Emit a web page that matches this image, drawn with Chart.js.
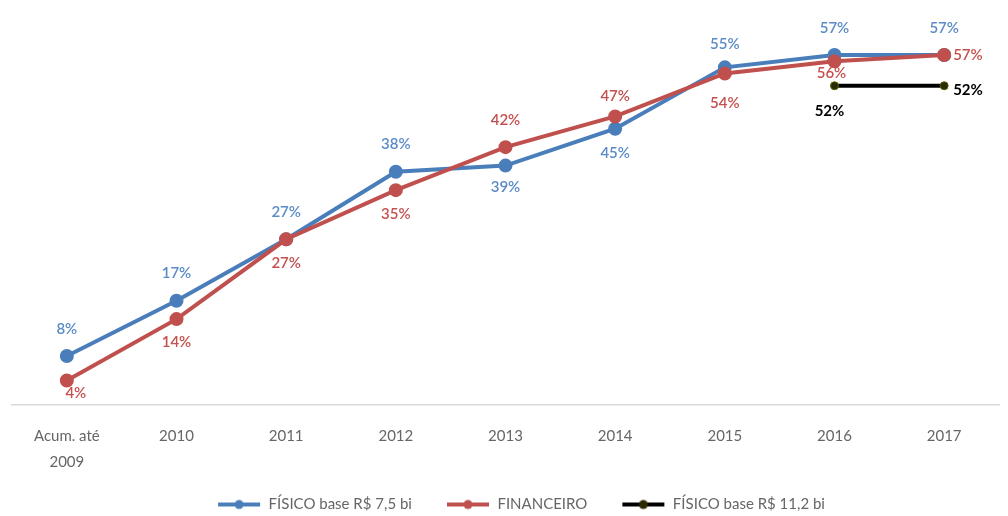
<!DOCTYPE html>
<html><head><meta charset="utf-8">
<script src="https://cdn.jsdelivr.net/npm/chart.js@4"></script>
<style>html,body{margin:0;padding:0;background:#fff}#wrap{width:1008px;height:516px}</style>
</head><body><div id="wrap"><canvas id="c" width="1008" height="516"></canvas></div>
<script>
const categories = [["Acum. até","2009"],"2010","2011","2012","2013","2014","2015","2016","2017"];
const fisico75 = [8,17,27,38,39,45,55,57,57];
const financeiro = [4,14,27,35,42,47,54,56,57];
const fisico112 = [null,null,null,null,null,null,null,52,52];
const seriesNames = ["FÍSICO base R$ 7,5 bi","FINANCEIRO","FÍSICO base R$ 11,2 bi"];

// label offsets (dx, dy, align) per point - style only
const labelStyle = [
  [[0,-27,'center'],[0,-28,'center'],[0,-27,'center'],[0,-28,'center'],[0,22,'center'],[0,24,'center'],[0,-23,'center'],[0,-27,'center'],[0,-27,'center']],
  [[9,13,'center'],[0,23,'center'],[0,24,'center'],[0,24,'center'],[0,-27,'center'],[0,-20,'center'],[0,30,'center'],[-3,12,'center'],[9,0,'left']],
  [null,null,null,null,null,null,null,[-5,25,'center'],[9,4,'left']]
];
const labelColors = ['#5b8bc7','#c4514e','#000000'];
const FONT = 'Lato, "Open Sans", sans-serif';

function marker(color, fill){
  const lead = 30;
  const cv = document.createElement('canvas'); cv.width=44+lead; cv.height=12;
  const x = cv.getContext('2d');
  x.strokeStyle=color; x.lineWidth=4; x.beginPath(); x.moveTo(lead+1,6); x.lineTo(lead+43,6); x.stroke();
  x.fillStyle=fill; x.beginPath(); x.arc(lead+22,6,4.5,0,Math.PI*2); x.fill();
  return cv;
}
const markers=[marker('#4a7ebb','#4a7ebb'),marker('#c0504d','#c0504d'),marker('#000','#2a2a00')];

const labelPlugin = {
  id:'lbl',
  afterDatasetsDraw(chart){
    const ctx=chart.ctx;
    chart.data.datasets.forEach((ds,i)=>{
      const meta=chart.getDatasetMeta(i);
      meta.data.forEach((pt,j)=>{
        const v=ds.data[j]; const st=labelStyle[i][j];
        if(v==null||!st) return;
        ctx.save();
        ctx.font=(i===2?'bold ':'600 ')+'15px '+FONT;
        ctx.fillStyle=labelColors[i];
        ctx.textAlign=st[2]; ctx.textBaseline='middle';
        ctx.fillText(v+'%', pt.x+st[0], pt.y+st[1]);
        ctx.restore();
      });
    });
  }
};

new Chart(document.getElementById('c'),{
  type:'line',
  data:{labels:categories,datasets:[
    {label:seriesNames[0],data:fisico75,borderColor:'#4a7ebb',backgroundColor:'#4a7ebb',borderWidth:4,pointRadius:5,pointHoverRadius:5,order:3},
    {label:seriesNames[1],data:financeiro,borderColor:'#c0504d',backgroundColor:'#c0504d',borderWidth:4,pointRadius:5,pointHoverRadius:5,order:2},
    {label:seriesNames[2],data:fisico112,borderColor:'#000000',backgroundColor:'#2a2a00',pointBorderColor:'#5a6000',borderWidth:4,pointRadius:4,pointBorderWidth:1,order:1}
  ]},
  options:{
    responsive:false,animation:false,
    layout:{padding:{left:12,right:8,top:8,bottom:-6}},
    scales:{
      x:{offset:true,grid:{display:false,drawTicks:false},border:{color:'#d9d9d9',width:1.5},
        ticks:{color:'#666666',padding:18,maxRotation:0,autoSkip:false,font:{family:FONT,size:15,lineHeight:1.73}}},
      y:{display:false,min:0,max:64.5}
    },
    plugins:{
      tooltip:{enabled:false},
      legend:{position:'bottom',labels:{usePointStyle:true,pointStyleWidth:74,boxHeight:12,padding:4,color:'#666666',
        font:{family:FONT,size:15},
        generateLabels(chart){
          return chart.data.datasets.map((d,i)=>({text:d.label,pointStyle:markers[i],fillStyle:'transparent',strokeStyle:'transparent',lineWidth:0,datasetIndex:i,fontColor:'#666666'}));
        }}}
    }
  },
  plugins:[labelPlugin]
});
</script></body></html>
